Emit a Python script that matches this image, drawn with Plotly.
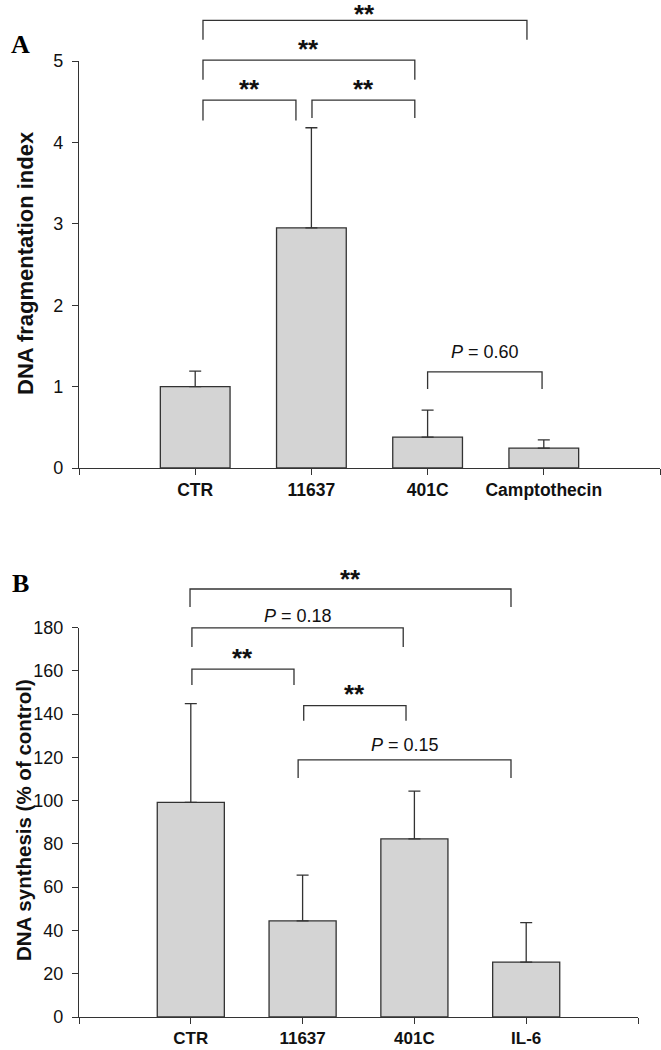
import plotly.graph_objects as go

# ---------------- data ----------------
cats_a = ["CTR", "11637", "401C", "Camptothecin"]
vals_a = [1.00, 2.95, 0.38, 0.245]
err_a = [0.19, 1.23, 0.33, 0.10]

cats_b = ["CTR", "11637", "401C", "IL-6"]
vals_b = [99.2, 44.4, 82.3, 25.4]
err_b = [45.6, 21.2, 22.1, 18.2]

yticks_a = [0, 1, 2, 3, 4, 5]
yticks_b = [0, 20, 40, 60, 80, 100, 120, 140, 160, 180]

ytitle_a = "DNA fragmentation index"
ytitle_b = "DNA synthesis (% of control)"

# comparisons: (left category index, right category index, label)
comp_a = [(0, 1, "**"), (1, 2, "**"), (0, 2, "**"), (0, 3, "**"), (2, 3, "<i>P</i> = 0.60")]
comp_b = [(0, 3, "**"), (0, 2, "<i>P</i> = 0.18"), (0, 1, "**"), (1, 2, "**"), (1, 3, "<i>P</i> = 0.15")]

# ---------------- layout geometry (not data) ----------------
W, H = 661, 1050
# bracket geometry: (dx_left, dx_right, y_horizontal, y_leg_bottom, y_label)
geo_a = [(0.067, -0.133, 4.52, 4.27, 4.72),
         (0.005, -0.11, 4.52, 4.30, 4.72),
         (0.067, -0.11, 5.01, 4.77, 5.21),
         (0.067, -0.145, 5.50, 5.26, 5.70),
         (0.0, -0.015, 1.18, 0.97, 1.42)]
geo_b = [(-0.007, -0.136, 197.8, 189.5, 204.5),
         (0.01, -0.10, 179.8, 171.0, 185.5),
         (0.01, -0.077, 160.8, 153.4, 168.0),
         (0.01, -0.075, 143.9, 136.9, 151.5),
         (-0.04, -0.136, 118.8, 110.4, 125.5)]

XMAX = 5
AX_COL = "#333333"
FONT = "Liberation Sans"

fig = go.Figure()

fig.add_trace(go.Bar(
    x=[i + 1 for i in range(len(cats_a))], y=vals_a, width=0.6,
    marker=dict(color="#d4d4d4", line=dict(color=AX_COL, width=1.3)),
    error_y=dict(type="data", symmetric=False, array=err_a, arrayminus=[0] * len(err_a),
                 color=AX_COL, thickness=1.3, width=6),
    xaxis="x", yaxis="y", showlegend=False, hoverinfo="skip"))

fig.add_trace(go.Bar(
    x=[i + 1 for i in range(len(cats_b))], y=vals_b, width=0.6,
    marker=dict(color="#d4d4d4", line=dict(color=AX_COL, width=1.3)),
    error_y=dict(type="data", symmetric=False, array=err_b, arrayminus=[0] * len(err_b),
                 color=AX_COL, thickness=1.3, width=6),
    xaxis="x2", yaxis="y2", showlegend=False, hoverinfo="skip"))

dom_xa = [79 / W, 660 / W]
dom_xb = [79 / W, 638 / W]
dom_ya = [(H - 468) / H, (H - 61) / H]
dom_yb = [(H - 1017) / H, (H - 627.5) / H]

def xaxis_cfg(cats, dom, anchor, standoff, size):
    return dict(domain=dom, anchor=anchor, range=[0, XMAX], automargin=False,
                tickvals=list(range(XMAX + 1)),
                ticktext=[""] + cats + [""] * (XMAX - len(cats)),
                ticks="outside", ticklen=6, tickwidth=1.2, tickcolor=AX_COL,
                showline=True, linecolor=AX_COL, linewidth=1.2,
                showgrid=False, zeroline=False, fixedrange=True,
                tickfont=dict(family=FONT, size=size, color="#111", weight="bold"),
                ticklabelstandoff=standoff)

def yaxis_cfg(ticks, dom, anchor, size):
    return dict(domain=dom, anchor=anchor, range=[ticks[0], ticks[-1]], automargin=False,
                tickvals=ticks, ticks="outside", ticklen=6, tickwidth=1.2, tickcolor=AX_COL,
                showline=True, linecolor=AX_COL, linewidth=1.2,
                showgrid=False, zeroline=False, fixedrange=True,
                tickfont=dict(family=FONT, size=size, color="#111"),
                ticklabelstandoff=5)

fig.update_layout(
    template="none",
    width=W, height=H, margin=dict(l=0, r=0, t=0, b=0, autoexpand=False),
    plot_bgcolor="white", paper_bgcolor="white",
    xaxis=xaxis_cfg(cats_a, dom_xa, "y", 0, 17.5),
    yaxis=yaxis_cfg(yticks_a, dom_ya, "x", 18),
    xaxis2=xaxis_cfg(cats_b, dom_xb, "y2", -1, 17),
    yaxis2=yaxis_cfg(yticks_b, dom_yb, "x2", 18),
    bargap=0.4,
)

shapes = []
annotations = []

def add_brackets(comps, geo, xr, yr, ymax, ydom):
    for (i, j, label), (dl, dr, yh, yl, yt) in zip(comps, geo):
        x1 = (i + 1 + dl) / XMAX
        x2 = (j + 1 + dr) / XMAX
        shapes.append(dict(type="path", xref=xr + " domain", yref=yr + " domain",
                           path=f"M {x1},{yl / ymax} L {x1},{yh / ymax} L {x2},{yh / ymax} L {x2},{yl / ymax}",
                           line=dict(color=AX_COL, width=1.3)))
        star = label == "**"
        ann = dict(x=(x1 + x2) / 2, y=yt / ymax, xref=xr + " domain", yref=yr + " domain",
                   text=label, showarrow=False, xanchor="center", yanchor="middle",
                   yshift=-5 if star else 0,
                   font=dict(family=FONT, size=26 if star else 18, color="#111",
                             weight="bold" if star else "normal"))
        # keep labels that would run past the top edge inside the page
        ypaper = ydom[0] + yt / ymax * (ydom[1] - ydom[0])
        if ypaper > 1 - 16 / H:
            ann.update(yref="paper", y=1, yanchor="top", yshift=3)
        annotations.append(ann)

add_brackets(comp_a, geo_a, "x", "y", yticks_a[-1], dom_ya)
add_brackets(comp_b, geo_b, "x2", "y2", yticks_b[-1], dom_yb)

annotations.append(dict(x=25 / W, y=(H - 263) / H, xref="paper", yref="paper", text=ytitle_a,
                        textangle=-90, showarrow=False, xanchor="center", yanchor="middle",
                        font=dict(family=FONT, size=22, color="#111", weight="bold")))
annotations.append(dict(x=23 / W, y=(H - 820) / H, xref="paper", yref="paper", text=ytitle_b,
                        textangle=-90, showarrow=False, xanchor="center", yanchor="middle",
                        font=dict(family=FONT, size=20.5, color="#111", weight="bold")))
annotations.append(dict(x=20 / W, y=(H - 45) / H, xref="paper", yref="paper", text="A",
                        showarrow=False, xanchor="center", yanchor="middle",
                        font=dict(family="Liberation Serif", size=26, color="#000", weight="bold")))
annotations.append(dict(x=20 / W, y=(H - 584) / H, xref="paper", yref="paper", text="B",
                        showarrow=False, xanchor="center", yanchor="middle",
                        font=dict(family="Liberation Serif", size=26, color="#000", weight="bold")))

fig.update_layout(shapes=shapes, annotations=annotations)
fig.write_html("out.html", config={"displayModeBar": False},
               post_script="document.body.style.margin='0px';document.body.style.overflow='hidden';")
